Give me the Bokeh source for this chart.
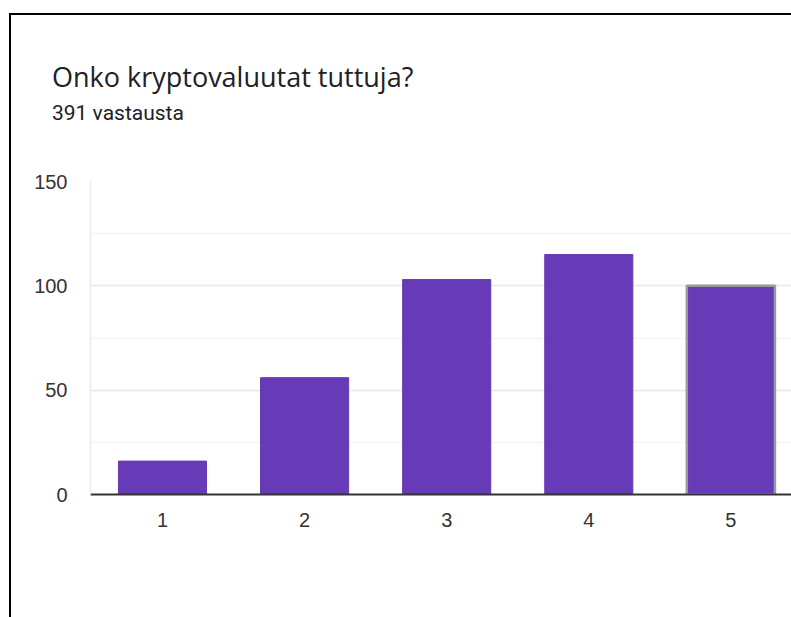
from bokeh.plotting import figure
from bokeh.models import ColumnDataSource, Range1d, SingleIntervalTicker, FixedTicker, Div
from bokeh.layouts import column
from bokeh.embed import file_html
from bokeh.resources import INLINE

# data
ratings = [1, 2, 3, 4, 5]
rating_labels = ["1", "2", "3", "4", "5"]
counts = [16, 56, 103, 115, 100]
title_text = "Onko kryptovaluutat tuttuja?"
subtitle_text = "391 vastausta"

BAR = "#673ab7"
line_colors = [BAR, BAR, BAR, BAR, "#9a9a9a"]
line_widths = [1, 1, 1, 1, 2.5]

src = ColumnDataSource(dict(x=ratings, top=counts, lc=line_colors, lw=line_widths))

header_html = (
    '<div style="position:relative;width:780px;height:150px;">'
    '<div style="position:absolute;left:41px;top:48px;font-family:\'Open Sans\';'
    'font-size:27px;line-height:27px;color:#202124;white-space:nowrap;">'
    + title_text + '</div>'
    '<div style="position:absolute;left:41px;top:88px;font-family:Roboto;'
    'font-size:21px;line-height:21px;color:#202124;white-space:nowrap;">'
    + subtitle_text + '</div></div>'
)
header = Div(text=header_html, width=780, height=150, margin=0)

p = figure(width=780, height=452, output_backend="svg", toolbar_location=None,
           x_range=Range1d(0.4933, 5.4266), y_range=Range1d(0, 150),
           min_border_left=79, min_border_right=0, min_border_bottom=123,
           min_border_top=16)

p.vbar(x="x", top="top", width=0.62, source=src, fill_color=BAR,
       line_color="lc", line_width="lw")

p.yaxis.ticker = SingleIntervalTicker(interval=50, num_minor_ticks=2)
p.xaxis.ticker = FixedTicker(ticks=ratings)
p.xaxis.major_label_overrides = {r: l for r, l in zip(ratings, rating_labels)}

for ax in (p.xaxis, p.yaxis):
    ax.major_tick_line_color = None
    ax.minor_tick_line_color = None
    ax.major_label_text_font = "Liberation Sans"
    ax.major_label_text_font_size = "20px"
    ax.major_label_text_color = "#333333"

p.xaxis.axis_line_color = "#333333"
p.xaxis.axis_line_width = 2
p.xaxis.major_label_standoff = 12
p.yaxis.axis_line_color = "#ebebeb"
p.yaxis.axis_line_width = 1.5
p.yaxis.major_label_standoff = 17

p.xgrid.grid_line_color = None
p.ygrid.grid_line_color = "#e9e9e9"
p.ygrid.grid_line_width = 1.5
p.ygrid.minor_grid_line_color = "#f4f4f4"
p.ygrid.minor_grid_line_width = 1.5
p.outline_line_color = None

layout = column(header, p, spacing=0,
                styles={"border-left": "2px solid #000", "border-top": "2px solid #000",
                        "margin-left": "9px", "margin-top": "13px"})

open("out.html", "w").write(file_html(layout, INLINE))
